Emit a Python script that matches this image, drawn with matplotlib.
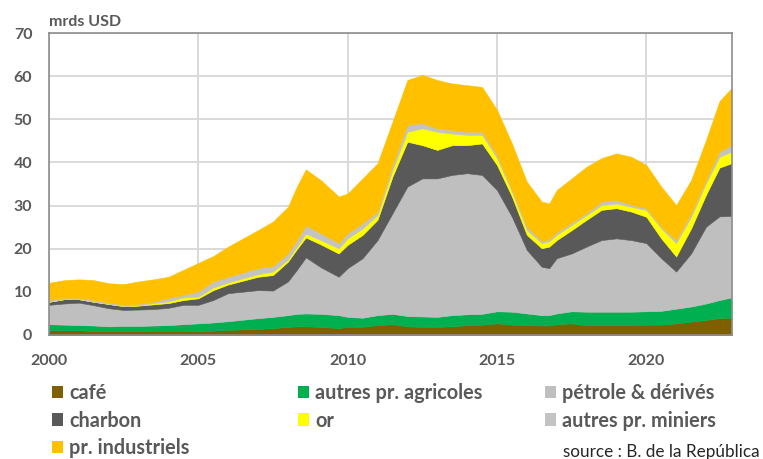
import matplotlib
matplotlib.use("Agg")
import matplotlib.pyplot as plt
from matplotlib.patches import Patch

plt.rcParams['font.family'] = ['Lato', 'DejaVu Sans']

years = [2000, 2000.5, 2001, 2001.5, 2002, 2002.5, 2003, 2003.5, 2004, 2004.5,
         2005, 2005.5, 2006, 2007, 2007.5, 2008, 2008.3, 2008.6, 2009.1, 2009.7,
         2010, 2010.5, 2011, 2011.5, 2012, 2012.5, 2013, 2013.5, 2014, 2014.5,
         2015, 2015.5, 2016, 2016.5, 2016.75, 2017, 2017.5, 2018, 2018.5, 2019,
         2019.5, 2020, 2020.5, 2021, 2021.5, 2022, 2022.45, 2022.85]

cafe = [1.1, 1.1, 1.1, 0.9, 0.9, 0.9, 0.9, 1.0, 1.0, 1.0,
        0.8, 1.0, 1.2, 1.4, 1.6, 1.9, 2.0, 2.0, 1.9, 1.6,
        1.9, 1.9, 2.3, 2.5, 2.0, 1.9, 1.9, 2.0, 2.3, 2.4,
        2.7, 2.4, 2.3, 2.2, 2.2, 2.5, 2.7, 2.3, 2.3, 2.3,
        2.3, 2.4, 2.4, 2.7, 3.1, 3.5, 3.9, 4.0]
autres_agricoles = [1.4, 1.3, 1.2, 1.3, 1.1, 1.2, 1.2, 1.2, 1.3, 1.5,
                    1.9, 1.9, 2.0, 2.5, 2.6, 2.7, 2.9, 3.0, 3.0, 3.0,
                    2.3, 2.1, 2.3, 2.4, 2.4, 2.4, 2.3, 2.6, 2.5, 2.5,
                    2.8, 3.0, 2.7, 2.4, 2.4, 2.5, 2.8, 3.1, 3.1, 3.1,
                    3.1, 3.1, 3.2, 3.4, 3.5, 3.8, 4.2, 4.7]
petrole = [4.5, 4.9, 5.2, 4.7, 4.2, 3.7, 3.8, 3.8, 4.0, 4.5,
           4.3, 5.2, 6.5, 6.5, 6.1, 7.8, 10.2, 13.0, 10.8, 8.9,
           11.3, 13.8, 17.4, 23.3, 30.0, 32.0, 32.1, 32.5, 32.7, 32.2,
           28.1, 22.0, 14.7, 11.2, 10.9, 12.8, 13.4, 15.1, 16.6, 17.0,
           16.6, 15.8, 12.2, 8.6, 12.3, 17.8, 19.4, 18.9]
charbon = [0.7, 1.0, 0.8, 0.8, 1.0, 0.9, 0.9, 1.1, 1.1, 1.1,
           1.5, 2.3, 2.0, 3.1, 3.6, 4.6, 4.8, 4.6, 5.3, 5.4,
           5.4, 5.4, 4.7, 8.5, 10.4, 7.7, 6.6, 6.9, 6.5, 7.3,
           5.8, 4.7, 3.5, 4.3, 5.0, 4.2, 5.4, 6.2, 7.0, 7.0,
           6.6, 6.1, 4.6, 3.5, 5.8, 7.4, 11.3, 12.2]
or_ = [0.0, 0.0, 0.0, 0.0, 0.0, 0.0, 0.1, 0.3, 0.4, 0.6,
       0.4, 0.6, 0.5, 0.6, 0.8, 0.5, 0.6, 0.9, 1.0, 1.2,
       1.5, 1.5, 1.1, 1.5, 2.3, 3.9, 4.2, 2.7, 2.4, 2.0,
       1.6, 1.1, 1.1, 1.2, 1.2, 1.2, 1.2, 1.1, 1.1, 1.1,
       1.1, 1.6, 2.3, 3.1, 2.7, 2.7, 2.5, 2.7]
autres_miniers = [0.4, 0.3, 0.3, 0.4, 0.3, 0.3, 0.3, 0.3, 0.8, 0.6,
                  1.2, 1.4, 1.3, 1.4, 1.3, 1.4, 1.5, 1.9, 1.6, 1.2,
                  1.2, 1.2, 0.8, 1.2, 1.6, 1.2, 0.8, 0.8, 0.7, 0.7,
                  0.7, 0.5, 0.8, 0.5, 0.5, 0.6, 0.5, 0.5, 0.8, 0.8,
                  0.5, 0.4, 0.4, 0.7, 0.8, 0.7, 1.2, 1.5]
industriels = [4.0, 4.1, 4.3, 4.6, 4.5, 4.8, 5.2, 5.2, 4.9, 5.8,
               6.6, 5.9, 7.0, 8.8, 10.3, 10.8, 12.4, 13.0, 12.3, 10.8,
               9.2, 10.4, 11.2, 10.0, 10.4, 11.2, 11.2, 10.8, 10.8, 10.4,
               10.5, 10.7, 10.4, 9.1, 8.3, 9.8, 10.3, 10.7, 10.1, 10.8,
               11.1, 10.0, 9.3, 8.1, 7.7, 9.3, 11.7, 13.2]

labels = ['café', 'autres pr. agricoles', 'pétrole & dérivés', 'charbon',
          'or', 'autres pr. miniers', 'pr. industriels']
colors = ['#7F6000', '#00B050', '#BFBFBF', '#595959', '#FFFF00', '#C3C3C3', '#FFC000']
series = [cafe, autres_agricoles, petrole, charbon, or_, autres_miniers, industriels]

xticks = [2000, 2005, 2010, 2015, 2020]
yticks = [0, 10, 20, 30, 40, 50, 60, 70]

fig = plt.figure(figsize=(7.63, 4.59), dpi=100)
ax = fig.add_axes([49 / 763, 1 - 335 / 459, (732 - 49) / 763, (335 - 33) / 459])

polys = ax.stackplot(years, *series, colors=colors, linewidth=0.4)
for p, c in zip(polys, colors):
    p.set_edgecolor(c)

ax.set_xlim(2000, 2022.87)
ax.set_ylim(0, 70)
ax.set_xticks(xticks)
ax.set_yticks(yticks)
ax.set_axisbelow(True)
ax.grid(True, color='#D9D9D9', linewidth=1.4)
for s in ax.spines.values():
    s.set_color('#8C8C8C')
    s.set_linewidth(1.2)
ax.tick_params(length=0, labelsize=11.5, labelcolor='#595959')
ax.tick_params(axis='y', pad=12)
ax.tick_params(axis='x', pad=14)
for lab in ax.get_xticklabels() + ax.get_yticklabels():
    lab.set_fontweight('bold')

fig.text(49 / 763, 1 - 22 / 459, 'mrds USD', fontsize=11.5, fontweight='bold',
         color='#595959', ha='left', va='center')

handles = [Patch(facecolor=c, edgecolor='none') for c in colors]
cols = [[0, 3, 6], [1, 4], [2, 5]]
xpos = [52 / 763, 298 / 763, 545 / 763]
for idx, xp in zip(cols, xpos):
    leg = fig.legend([handles[i] for i in idx], [labels[i] for i in idx],
                     loc='upper left', bbox_to_anchor=(xp, 1 - 383 / 459),
                     frameon=False, handlelength=0.56,
                     handleheight=0.56, handletextpad=0.3, labelspacing=0.38,
                     borderaxespad=0, borderpad=0,
                     prop={'weight': 'bold', 'size': 14.3})
    for t in leg.get_texts():
        t.set_color('#595959')

fig.text(760 / 763, 1 - 452 / 459, 'source : B. de la República', fontsize=12.3,
         color='#262626', ha='right', va='center')

fig.savefig('out.png', dpi=100)
